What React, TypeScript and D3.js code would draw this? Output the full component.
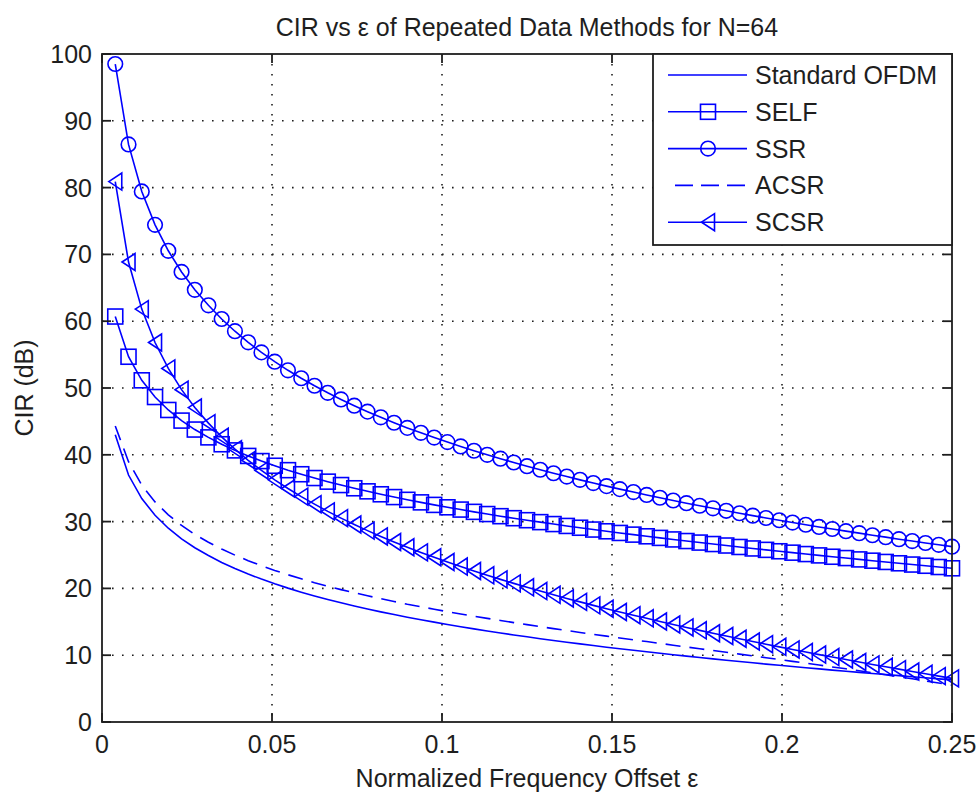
import React from 'react';
import * as d3 from 'd3';

const EPSILON = [
  0.0039, 0.0078, 0.0117, 0.0156, 0.0195, 0.0234, 0.0273, 0.0313, 0.0352, 0.0391,
  0.0430, 0.0469, 0.0508, 0.0547, 0.0586, 0.0625, 0.0664, 0.0703, 0.0742, 0.0781,
  0.0820, 0.0859, 0.0898, 0.0938, 0.0977, 0.1016, 0.1055, 0.1094, 0.1133, 0.1172,
  0.1211, 0.1250, 0.1289, 0.1328, 0.1367, 0.1406, 0.1445, 0.1484, 0.1523, 0.1563,
  0.1602, 0.1641, 0.1680, 0.1719, 0.1758, 0.1797, 0.1836, 0.1875, 0.1914, 0.1953,
  0.1992, 0.2031, 0.2070, 0.2109, 0.2148, 0.2188, 0.2227, 0.2266, 0.2305, 0.2344,
  0.2383, 0.2422, 0.2461, 0.2500,
];

const STANDARD_OFDM = [
  43.0, 36.97, 33.45, 30.95, 29.01, 27.42, 26.08, 24.92, 23.89, 22.98,
  22.15, 21.39, 20.69, 20.04, 19.44, 18.87, 18.34, 17.84, 17.37, 16.92,
  16.49, 16.08, 15.68, 15.31, 14.95, 14.60, 14.26, 13.94, 13.63, 13.33,
  13.03, 12.75, 12.47, 12.20, 11.94, 11.69, 11.44, 11.20, 10.96, 10.73,
  10.51, 10.29, 10.07, 9.86, 9.65, 9.45, 9.25, 9.05, 8.86, 8.67,
  8.49, 8.30, 8.12, 7.95, 7.77, 7.60, 7.43, 7.26, 7.10, 6.94,
  6.78, 6.62, 6.46, 6.31,
];

const SELF = [
  60.70, 54.68, 51.15, 48.65, 46.71, 45.12, 43.78, 42.61, 41.58, 40.66,
  39.83, 39.06, 38.36, 37.70, 37.09, 36.52, 35.98, 35.47, 34.99, 34.53,
  34.09, 33.67, 33.26, 32.88, 32.50, 32.14, 31.80, 31.46, 31.13, 30.81,
  30.51, 30.21, 29.92, 29.63, 29.35, 29.08, 28.81, 28.55, 28.30, 28.05,
  27.80, 27.56, 27.33, 27.09, 26.86, 26.64, 26.42, 26.20, 25.98, 25.77,
  25.56, 25.35, 25.14, 24.94, 24.74, 24.54, 24.34, 24.15, 23.96, 23.76,
  23.57, 23.39, 23.20, 23.01,
];

const SSR = [
  98.50, 86.46, 79.42, 74.42, 70.54, 67.37, 64.70, 62.38, 60.33, 58.50,
  56.84, 55.33, 53.94, 52.65, 51.46, 50.34, 49.28, 48.29, 47.35, 46.46,
  45.61, 44.80, 44.03, 43.29, 42.58, 41.90, 41.25, 40.61, 40.00, 39.42,
  38.85, 38.29, 37.76, 37.24, 36.74, 36.25, 35.77, 35.31, 34.86, 34.42,
  33.99, 33.57, 33.16, 32.76, 32.37, 31.99, 31.62, 31.25, 30.89, 30.54,
  30.20, 29.86, 29.53, 29.20, 28.89, 28.57, 28.27, 27.96, 27.67, 27.37,
  27.09, 26.80, 26.53, 26.25,
];

const ACSR = [
  44.3, 38.97, 35.45, 32.95, 31.01, 29.42, 28.08, 26.92, 25.89, 24.98,
  24.15, 23.39, 22.69, 22.04, 21.44, 20.86, 20.33, 19.82, 19.35, 18.89,
  18.46, 18.04, 17.63, 17.26, 16.89, 16.52, 16.17, 15.84, 15.51, 15.20,
  14.88, 14.58, 14.27, 13.98, 13.69, 13.41, 13.13, 12.85, 12.57, 12.30,
  12.04, 11.77, 11.50, 11.23, 10.96, 10.70, 10.43, 10.16, 9.90, 9.63,
  9.36, 9.08, 8.80, 8.53, 8.24, 7.96, 7.67, 7.37, 7.07, 6.77,
  6.47, 6.15, 5.83, 5.51,
];

const SCSR = [
  80.90, 68.86, 61.81, 56.81, 52.93, 49.75, 47.07, 44.74, 42.69, 40.85,
  39.18, 37.66, 36.25, 34.95, 33.74, 32.61, 31.53, 30.52, 29.56, 28.65,
  27.78, 26.95, 26.16, 25.39, 24.66, 23.95, 23.27, 22.60, 21.96, 21.35,
  20.75, 20.16, 19.60, 19.04, 18.50, 17.98, 17.46, 16.96, 16.47, 15.99,
  15.52, 15.05, 14.60, 14.16, 13.72, 13.29, 12.87, 12.46, 12.05, 11.65,
  11.25, 10.86, 10.47, 10.09, 9.72, 9.35, 8.98, 8.62, 8.26, 7.91,
  7.56, 7.21, 6.87, 6.53,
];

const X_TICKS = [0, 0.05, 0.1, 0.15, 0.2, 0.25];
const X_TICK_LABELS = ['0', '0.05', '0.1', '0.15', '0.2', '0.25'];
const Y_TICKS = [0, 10, 20, 30, 40, 50, 60, 70, 80, 90, 100];
const Y_TICK_LABELS = ['0', '10', '20', '30', '40', '50', '60', '70', '80', '90', '100'];

const TITLE = 'CIR vs \u03b5 of Repeated Data Methods for N=64';
const X_LABEL = 'Normalized Frequency Offset \u03b5';
const Y_LABEL = 'CIR (dB)';

const SERIES_NAMES = ['Standard OFDM', 'SELF', 'SSR', 'ACSR', 'SCSR'];
const SERIES_VALUES = [STANDARD_OFDM, SELF, SSR, ACSR, SCSR];
const SERIES_MARKERS = ['none', 'square', 'circle', 'none', 'triangle'];
const SERIES_DASHED = [false, false, false, true, false];

const W = 979;
const H = 794;
const PLOT = { left: 102, right: 952, top: 54, bottom: 722 };
const BLUE = '#0000ff';
const INK = '#1e1e1e';
const FONT = '"Liberation Sans", Arial, Helvetica, sans-serif';
const FS = 25;

function Marker({ type, cx, cy }: { type: string; cx: number; cy: number }) {
  if (type === 'square') {
    return <rect x={cx - 7.5} y={cy - 7.5} width={15} height={15} fill="none" stroke={BLUE} strokeWidth={1.6} />;
  }
  if (type === 'circle') {
    return <circle cx={cx} cy={cy} r={7.3} fill="none" stroke={BLUE} strokeWidth={1.6} />;
  }
  if (type === 'triangle') {
    return (
      <path
        d={`M${cx - 6.5},${cy} L${cx + 6.5},${cy - 8.5} L${cx + 6.5},${cy + 8.5} Z`}
        fill="none"
        stroke={BLUE}
        strokeWidth={1.6}
        strokeLinejoin="miter"
      />
    );
  }
  return null;
}

export default function App() {
  const x = d3.scaleLinear().domain([0, 0.25]).range([PLOT.left, PLOT.right]);
  const y = d3.scaleLinear().domain([0, 100]).range([PLOT.bottom, PLOT.top]);
  const lineGen = d3
    .line<number>()
    .x((_, i) => x(EPSILON[i]))
    .y((v) => y(v));

  const tickLen = 9;
  const legend = { left: 653, top: 54, right: 952, bottom: 245 };
  const legendRowY = (i: number) => 75 + i * 36.8;

  return (
    <svg
      width={W}
      height={H}
      viewBox={`0 0 ${W} ${H}`}
      style={{ position: 'absolute', left: 0, top: 0, background: '#fff' }}
      fontFamily={FONT}
    >
      <rect x={0} y={0} width={W} height={H} fill="#fff" />
      <rect x={PLOT.left} y={PLOT.top} width={PLOT.right - PLOT.left} height={PLOT.bottom - PLOT.top} fill="#fff" />

      {/* grid */}
      <g stroke={INK} strokeWidth={1.6} strokeDasharray="1.6,8.4">
        {X_TICKS.slice(1, -1).map((t) => (
          <line key={`gx${t}`} x1={x(t)} x2={x(t)} y1={PLOT.top} y2={PLOT.bottom} />
        ))}
        {Y_TICKS.slice(1, -1).map((t) => (
          <line key={`gy${t}`} x1={PLOT.left} x2={PLOT.right} y1={y(t)} y2={y(t)} />
        ))}
      </g>

      {/* series */}
      {SERIES_VALUES.map((vals, si) => (
        <g key={SERIES_NAMES[si]}>
          <path
            d={lineGen(vals) || ''}
            fill="none"
            stroke={BLUE}
            strokeWidth={1.6}
            strokeDasharray={SERIES_DASHED[si] ? '15,9' : undefined}
          />
          {SERIES_MARKERS[si] !== 'none' &&
            vals.map((v, i) => <Marker key={i} type={SERIES_MARKERS[si]} cx={x(EPSILON[i])} cy={y(v)} />)}
        </g>
      ))}

      {/* axes box and ticks */}
      <rect
        x={PLOT.left}
        y={PLOT.top}
        width={PLOT.right - PLOT.left}
        height={PLOT.bottom - PLOT.top}
        fill="none"
        stroke={INK}
        strokeWidth={1.8}
      />
      <g stroke={INK} strokeWidth={1.8}>
        {X_TICKS.map((t) => (
          <g key={`tx${t}`}>
            <line x1={x(t)} x2={x(t)} y1={PLOT.bottom} y2={PLOT.bottom - tickLen} />
            <line x1={x(t)} x2={x(t)} y1={PLOT.top} y2={PLOT.top + tickLen} />
          </g>
        ))}
        {Y_TICKS.map((t) => (
          <g key={`ty${t}`}>
            <line x1={PLOT.left} x2={PLOT.left + tickLen} y1={y(t)} y2={y(t)} />
            <line x1={PLOT.right} x2={PLOT.right - tickLen} y1={y(t)} y2={y(t)} />
          </g>
        ))}
      </g>

      {/* tick labels */}
      <g fill={INK} fontSize={FS}>
        {X_TICKS.map((t, i) => (
          <text key={`lx${t}`} x={x(t)} y={753} textAnchor="middle">
            {X_TICK_LABELS[i]}
          </text>
        ))}
        {Y_TICKS.map((t, i) => (
          <text key={`ly${t}`} x={92} y={y(t) + 9} textAnchor="end">
            {Y_TICK_LABELS[i]}
          </text>
        ))}
      </g>

      {/* title and axis labels */}
      <text x={(PLOT.left + PLOT.right) / 2} y={36} textAnchor="middle" fontSize={FS} fill={INK}>
        {TITLE}
      </text>
      <text x={(PLOT.left + PLOT.right) / 2} y={787} textAnchor="middle" fontSize={FS} fill={INK}>
        {X_LABEL}
      </text>
      <text
        transform={`translate(33,${(PLOT.top + PLOT.bottom) / 2}) rotate(-90)`}
        textAnchor="middle"
        fontSize={FS}
        fill={INK}
      >
        {Y_LABEL}
      </text>

      {/* legend */}
      <rect
        x={legend.left}
        y={legend.top}
        width={legend.right - legend.left}
        height={legend.bottom - legend.top}
        fill="#fff"
        stroke={INK}
        strokeWidth={1.8}
      />
      {SERIES_NAMES.map((name, i) => {
        const ly = legendRowY(i);
        return (
          <g key={`leg${name}`}>
            <line
              x1={SERIES_DASHED[i] ? 675 : 668}
              x2={747}
              y1={ly}
              y2={ly}
              stroke={BLUE}
              strokeWidth={1.6}
              strokeDasharray={SERIES_DASHED[i] ? '18,8' : undefined}
            />
            <Marker type={SERIES_MARKERS[i]} cx={708} cy={ly} />
            <text x={755} y={ly + 9} fontSize={FS} fill={INK}>
              {name}
            </text>
          </g>
        );
      })}
    </svg>
  );
}
